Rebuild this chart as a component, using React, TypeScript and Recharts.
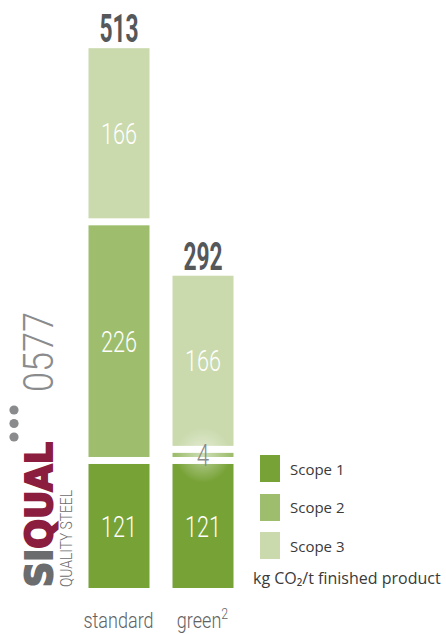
import React from 'react';
import { BarChart, Bar, XAxis, YAxis, LabelList, Legend } from 'recharts';

const categories = ['standard', 'green'];
const superscripts = ['', '2'];
const scope1 = [121, 121];
const scope2 = [226, 4];
const scope3 = [166, 166];
const totals = [513, 292];
const seriesNames = ['Scope 1', 'Scope 2', 'Scope 3'];
const seriesKeys = ['scope1', 'scope2', 'scope3'];
const seriesColors = ['#77a236', '#9ebe6e', '#cadaad'];
const unitNote = 'kg CO₂/t finished product';

const data = categories.map((name, i) => ({
  name,
  sup: superscripts[i],
  scope1: scope1[i],
  scope2: scope2[i],
  scope3: scope3[i],
  total: totals[i],
}));

const GAP = 7;
const COND = "Roboto, 'Liberation Sans', sans-serif";

// each stacked segment is lifted by GAP per level, leaving white gaps
const makeShape = (level: number) => (props: any) => {
  const { x, y, width, height, fill } = props;
  return <rect x={x} y={y - level * GAP} width={width} height={height} fill={fill} />;
};

const makeValueLabel = (level: number) => (props: any) => {
  const vb = props.viewBox ?? props;
  const { x, y, width, height } = vb;
  const value = Number(props.value);
  const cx = x + width / 2;
  const cy = y - level * GAP + height / 2;
  const small = value < 10;
  const fs = small ? 31 : 30;
  return (
    <g>
      {small && <circle cx={cx} cy={cy} r={28} fill="url(#glow)" />}
      <text
        transform={`translate(${cx},${cy + fs * 0.355}) scale(0.72,1)`}
        textAnchor="middle"
        fontFamily={COND}
        fontWeight={300}
        fontSize={fs}
        fill={small ? '#8a8a8a' : '#ffffff'}
      >
        {value}
      </text>
    </g>
  );
};

const makeTotalLabel = (level: number) => (props: any) => {
  const vb = props.viewBox ?? props;
  const { x, y, width } = vb;
  const cx = x + width / 2;
  const top = y - level * GAP;
  return (
    <text
      transform={`translate(${cx},${top - 6}) scale(0.6,1)`}
      textAnchor="middle"
      fontFamily={COND}
      fontWeight={700}
      fontSize={38}
      fill="#55585b"
    >
      {props.value}
    </text>
  );
};

const CategoryTick = (props: any) => {
  const { x, y, payload } = props;
  const row = data.find((d) => d.name === payload.value);
  return (
    <text
      transform={`translate(${x},${y + 32}) scale(0.82,1)`}
      textAnchor="middle"
      fontFamily={COND}
      fontWeight={300}
      fontSize={22}
      fill="#616264"
    >
      <tspan>{payload.value}</tspan>
      {row && row.sup ? (
        <tspan fontSize={15} dy={-9}>
          {row.sup}
        </tspan>
      ) : null}
    </text>
  );
};

const LegendContent = (props: any) => {
  const payload = (props.payload || []).slice().sort(
    (a: any, b: any) => seriesKeys.indexOf(a.dataKey) - seriesKeys.indexOf(b.dataKey)
  );
  return (
    <div style={{ fontFamily: "'Open Sans', sans-serif", fontSize: 15, color: '#3a3a3a' }}>
      {payload.map((p: any) => (
        <div
          key={p.dataKey}
          style={{ display: 'flex', alignItems: 'center', height: 27, marginBottom: 11.5, marginLeft: 7 }}
        >
          <div style={{ width: 20, height: 27, background: p.color }} />
          <span style={{ marginLeft: 10 }}>{p.value}</span>
        </div>
      ))}
      <div style={{ marginTop: -3, fontSize: 16, lineHeight: '20px', whiteSpace: 'nowrap' }}>{unitNote}</div>
    </div>
  );
};

const Logo = () => (
  <svg
    width={446}
    height={634}
    style={{ position: 'absolute', left: 0, top: 0, pointerEvents: 'none' }}
  >
    <text
      transform="translate(52,587) rotate(-90)"
      fontFamily="'DejaVu Sans', sans-serif"
      fontWeight={700}
      fontSize={37}
      textLength={145}
      lengthAdjust="spacingAndGlyphs"
      strokeWidth={2}
    >
      <tspan fill="#6b6c6e" stroke="#6b6c6e">SI</tspan>
      <tspan fill="#8b1d3e" stroke="#8b1d3e">QUAL</tspan>
    </text>
    <text
      transform="translate(72,587) rotate(-90)"
      fontFamily={COND}
      fontWeight={300}
      fontSize={16.5}
      textLength={97}
      lengthAdjust="spacingAndGlyphs"
      fill="#6b6c6e"
    >
      QUALITY STEEL
    </text>
    <text
      transform="translate(53,392) rotate(-90)"
      fontFamily={COND}
      fontWeight={300}
      fontSize={43}
      textLength={80}
      lengthAdjust="spacingAndGlyphs"
      fill="#8a8b8d"
    >
      0577
    </text>
    <circle cx={14} cy={410} r={4.6} fill="#8a8b8d" />
    <circle cx={14} cy={423.5} r={4.6} fill="#8a8b8d" />
    <circle cx={14} cy={437} r={4.6} fill="#8a8b8d" />
  </svg>
);

export default function App() {
  return (
    <div style={{ position: 'absolute', left: 0, top: 0, width: 446, height: 634, background: '#fff' }}>
      <BarChart
        width={446}
        height={634}
        data={data}
        margin={{ top: 14, right: 201.5, left: 76.5, bottom: 0 }}
        barCategoryGap={0}
      >
        <defs>
          <radialGradient id="glow">
            <stop offset="0%" stopColor="#ffffff" stopOpacity={0.5} />
            <stop offset="100%" stopColor="#ffffff" stopOpacity={0} />
          </radialGradient>
        </defs>
        <XAxis
          dataKey="name"
          axisLine={false}
          tickLine={false}
          height={46}
          interval={0}
          tick={<CategoryTick />}
        />
        <YAxis hide domain={[0, 560]} width={0} />
        <Legend
          layout="vertical"
          align="center"
          verticalAlign="middle"
          content={<LegendContent />}
          wrapperStyle={{ position: 'absolute', left: 253, top: 455, width: 193 }}
        />
        {seriesKeys.map((key, i) => (
          <Bar
            key={key}
            dataKey={key}
            name={seriesNames[i]}
            stackId="s"
            fill={seriesColors[i]}
            barSize={61}
            shape={makeShape(i)}
            isAnimationActive={false}
          >
            <LabelList dataKey={key} content={makeValueLabel(i)} />
            {i === seriesKeys.length - 1 && (
              <LabelList dataKey="total" content={makeTotalLabel(i)} />
            )}
          </Bar>
        ))}
      </BarChart>
      <Logo />
    </div>
  );
}
